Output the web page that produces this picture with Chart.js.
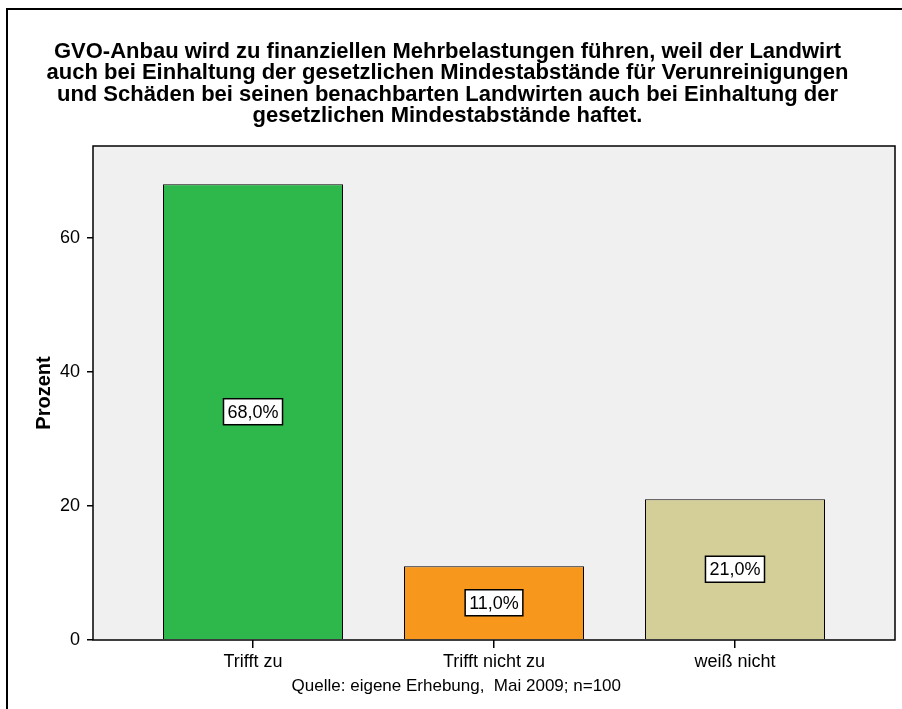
<!DOCTYPE html>
<html>
<head>
<meta charset="utf-8">
<script src="https://cdn.jsdelivr.net/npm/chart.js@4/dist/chart.umd.min.js"></script>
<style>
  html, body { margin: 0; padding: 0; background: #fff; }
  #wrap { width: 902px; height: 709px; }
</style>
</head>
<body>
<div id="wrap"><canvas id="gvoChart"></canvas></div>
<script>
/***** DATA *****/
var categories = ['Trifft zu', 'Trifft nicht zu', 'weiß nicht'];
var percentValues = [68.0, 11.0, 21.0];
var barColors = ['#2eb84b', '#f7981d', '#d4ce98'];
var yTicks = [0, 20, 40, 60];
var titleLines = [
    'GVO-Anbau wird zu finanziellen Mehrbelastungen führen, weil der Landwirt',
    'auch bei Einhaltung der gesetzlichen Mindestabstände für Verunreinigungen',
    'und Schäden bei seinen benachbarten Landwirten auch bei Einhaltung der',
    'gesetzlichen Mindestabstände haftet.'
];
var sourceNote = 'Quelle: eigene Erhebung,  Mai 2009; n=100';

var FONT = "'Liberation Sans', Arial, sans-serif";

// grey plot background + frame, outer box, source note
var framePlugin = {
    id: 'frame',
    beforeDraw: function (chart) {
        var ctx = chart.ctx, a = chart.chartArea;
        ctx.save();
        ctx.fillStyle = '#f0f0f0';
        ctx.fillRect(a.left, a.top, a.right - a.left, a.bottom - a.top);
        ctx.strokeStyle = '#000';
        ctx.lineWidth = 2;
        ctx.strokeRect(7, 9, chart.width + 10, chart.height + 10);
        ctx.restore();
    },
    afterDraw: function (chart) {
        var ctx = chart.ctx, a = chart.chartArea;
        ctx.save();
        ctx.strokeStyle = '#000';
        ctx.lineWidth = 1.5;
        ctx.strokeRect(a.left, a.top, a.right - a.left, a.bottom - a.top);
        ctx.fillStyle = '#000';
        ctx.font = '17px ' + FONT;
        ctx.textAlign = 'center';
        ctx.textBaseline = 'middle';
        ctx.fillText(sourceNote, a.left + (a.right - a.left) * 0.453, a.bottom + 46);
        ctx.restore();
    }
};

// boxed value labels in the middle of each bar
var boxLabels = {
    id: 'boxLabels',
    afterDatasetsDraw: function (chart) {
        var ctx = chart.ctx;
        var meta = chart.getDatasetMeta(0);
        ctx.save();
        ctx.font = '18px ' + FONT;
        ctx.textAlign = 'center';
        ctx.textBaseline = 'middle';
        meta.data.forEach(function (bar, i) {
            var txt = percentValues[i].toFixed(1).replace('.', ',') + '%';
            var cy = (bar.y + bar.base) / 2;
            var w = ctx.measureText(txt).width + 8;
            var h = 26;
            ctx.fillStyle = '#fff';
            ctx.fillRect(bar.x - w / 2, cy - h / 2, w, h);
            ctx.strokeStyle = '#000';
            ctx.lineWidth = 1.5;
            ctx.strokeRect(bar.x - w / 2, cy - h / 2, w, h);
            ctx.fillStyle = '#000';
            ctx.fillText(txt, bar.x, cy + 1);
        });
        ctx.restore();
    }
};

var ctx = document.getElementById('gvoChart').getContext('2d');
var gvoChart = new Chart(ctx, {
    type: 'bar',
    data: {
        datasets: [{
            data: categories.map(function (c, i) { return { x: i, y: percentValues[i] }; }),
            backgroundColor: barColors,
            borderColor: '#000',
            borderWidth: 1,
            barPercentage: 0.747,
            categoryPercentage: 1
        }]
    },
    options: {
        responsive: true,
        maintainAspectRatio: false,
        animation: false,
        layout: { padding: { top: 0, right: 7, bottom: 0, left: 0 } },
        plugins: {
            legend: { display: false },
            tooltip: { enabled: false },
            title: {
                display: true,
                text: titleLines,
                color: '#000',
                font: { family: FONT, size: 22, weight: 'bold', lineHeight: '21.5px' },
                padding: { top: 41, bottom: 19 }
            }
        },
        scales: {
            x: {
                type: 'linear',
                min: -0.664,
                max: 2.664,
                offset: false,
                afterBuildTicks: function (scale) {
                    scale.ticks = categories.map(function (c, i) { return { value: i }; });
                },
                afterFit: function (scale) { scale.height = 69; },
                grid: { drawOnChartArea: false, offset: false, tickLength: 8, color: '#000', lineWidth: 1.5 },
                border: { display: false },
                ticks: {
                    color: '#000',
                    padding: 3,
                    maxRotation: 0,
                    autoSkip: false,
                    font: { family: FONT, size: 18 },
                    callback: function (v) { return categories[v]; }
                }
            },
            y: {
                min: 0,
                max: 73.7,
                afterBuildTicks: function (scale) {
                    scale.ticks = yTicks.map(function (v) { return { value: v }; });
                },
                afterFit: function (scale) { scale.width = 93; },
                grid: { drawOnChartArea: false, tickLength: 6, color: '#000', lineWidth: 1.5 },
                border: { display: false },
                ticks: { color: '#000', padding: 7, font: { family: FONT, size: 18 } },
                title: {
                    display: true,
                    text: 'Prozent',
                    color: '#000',
                    font: { family: FONT, size: 20, weight: 'bold' },
                    padding: { top: 32, bottom: 0 }
                }
            }
        }
    },
    plugins: [framePlugin, boxLabels]
});
</script>
</body>
</html>
